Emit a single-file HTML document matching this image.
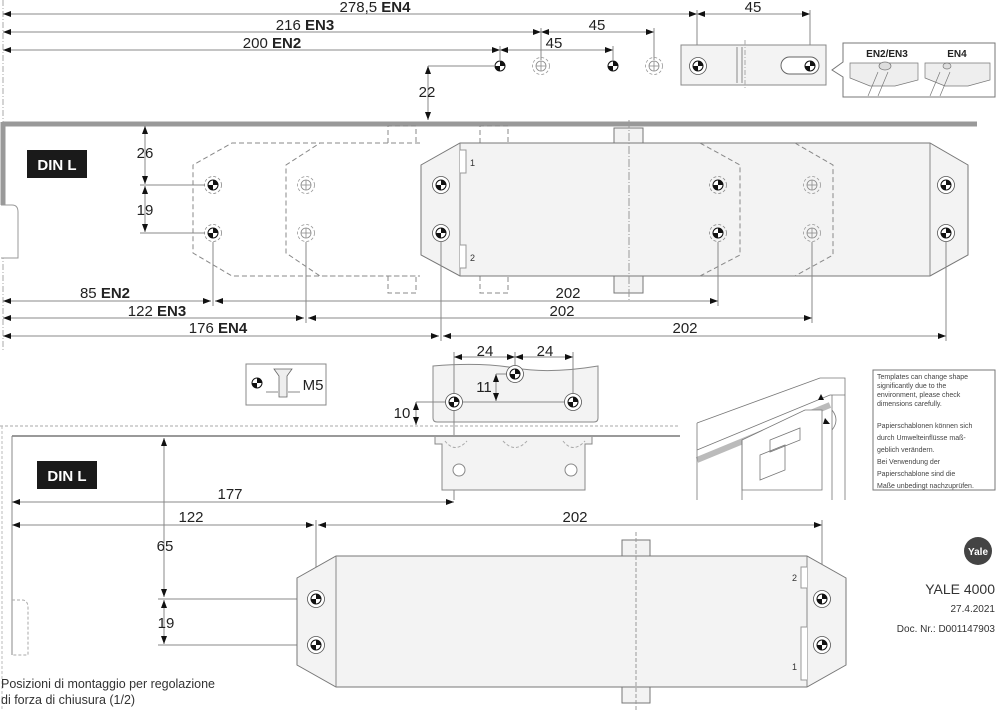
<!DOCTYPE html>
<html><head><meta charset="utf-8"><style>
html,body{margin:0;padding:0;background:#fff;}
svg{display:block;font-family:"Liberation Sans",sans-serif;}
.d{stroke:#888;stroke-width:1;fill:none;}
.t{font-size:15px;fill:#222;text-anchor:middle;}
.b{font-weight:bold;}
.ds{stroke:#888;stroke-width:1;fill:none;stroke-dasharray:5 3;}
.body{fill:#f3f3f3;stroke:#777;stroke-width:1;}
</style></head><body>
<svg width="1000" height="711" viewBox="0 0 1000 711" xmlns="http://www.w3.org/2000/svg">
<defs>
<marker id="a" markerWidth="8" markerHeight="6" refX="8" refY="3" orient="auto-start-reverse" markerUnits="userSpaceOnUse"><path d="M0,0 L8,3 L0,6z" fill="#111"/></marker>
<symbol id="h" viewBox="-9 -9 18 18" overflow="visible">
<circle r="8.5" fill="#fff" stroke="#555" stroke-width="0.8"/>
<circle r="5" fill="#fff" stroke="#111" stroke-width="1"/>
<path d="M0,0 L5,0 A5,5 0 0 0 0,-5z M0,0 L-5,0 A5,5 0 0 0 0,5z" fill="#111"/>
</symbol>
<symbol id="hd" viewBox="-9 -9 18 18" overflow="visible">
<circle r="8.5" fill="none" stroke="#888" stroke-width="0.8" stroke-dasharray="3 2"/>
<circle r="5" fill="#fff" stroke="#111" stroke-width="1"/>
<path d="M0,0 L5,0 A5,5 0 0 0 0,-5z M0,0 L-5,0 A5,5 0 0 0 0,5z" fill="#111"/>
</symbol>
<symbol id="c" viewBox="-9 -9 18 18" overflow="visible">
<circle r="8.5" fill="none" stroke="#999" stroke-width="0.8" stroke-dasharray="3 2"/>
<circle r="5" fill="none" stroke="#888" stroke-width="0.8"/>
<path d="M-5,0H5M0,-5V5" stroke="#888" stroke-width="0.8"/>
</symbol>
<symbol id="hs" viewBox="-6 -6 12 12" overflow="visible">
<circle r="5" fill="#fff" stroke="#111" stroke-width="1"/>
<path d="M0,0 L5,0 A5,5 0 0 0 0,-5z M0,0 L-5,0 A5,5 0 0 0 0,5z" fill="#111"/>
</symbol>
</defs>

<path d="M3,0V350" stroke="#aaa" stroke-dasharray="6 2 1 2" fill="none"/>

<path class="d" d="M3,14H697" marker-start="url(#a)" marker-end="url(#a)"/>
<text class="t" x="375" y="12">278,5 <tspan class="b">EN4</tspan></text>
<path class="d" d="M697,14H810" marker-start="url(#a)" marker-end="url(#a)"/>
<text class="t" x="753" y="12">45</text>
<path class="d" d="M3,32H541" marker-start="url(#a)" marker-end="url(#a)"/>
<text class="t" x="305" y="30">216 <tspan class="b">EN3</tspan></text>
<path class="d" d="M541,32H654" marker-start="url(#a)" marker-end="url(#a)"/>
<text class="t" x="597" y="30">45</text>
<path class="d" d="M3,50H500" marker-start="url(#a)" marker-end="url(#a)"/>
<text class="t" x="272" y="48">200 <tspan class="b">EN2</tspan></text>
<path class="d" d="M500,50H613" marker-start="url(#a)" marker-end="url(#a)"/>
<text class="t" x="554" y="48">45</text>
<path class="d" d="M500,46V60M541,28V60M613,46V60M654,28V60M697,10V60M810,10V60"/>
<use href="#hs" x="494" y="60" width="12" height="12"/>
<use href="#c" x="532" y="57" width="18" height="18" />
<use href="#hs" x="607" y="60" width="12" height="12"/>
<use href="#c" x="645" y="57" width="18" height="18"/>
<path class="d" d="M428,66H494"/>
<path class="d" d="M428,66V120" marker-start="url(#a)" marker-end="url(#a)"/>
<text class="t" x="427" y="97">22</text>

<rect x="681" y="45" width="145" height="40" fill="#f3f3f3" stroke="#888"/>
<path d="M737,47V83M742,47V83" stroke="#888"/>
<path d="M745,40V90" stroke="#aaa" stroke-dasharray="5 2 1 2"/>
<rect x="781" y="57" width="38" height="17" rx="8.5" fill="#fff" stroke="#666"/>
<use href="#h" x="689" y="57" width="18" height="18"/>
<use href="#hs" x="804" y="60" width="12" height="12"/>
<path d="M843,43H995V97H843V77L832,70L843,62Z" fill="#fff" stroke="#777"/>
<text x="887" y="57" font-size="10" font-weight="bold" text-anchor="middle" fill="#222">EN2/EN3</text>
<text x="957" y="57" font-size="10" font-weight="bold" text-anchor="middle" fill="#222">EN4</text>
<g stroke="#777" fill="#eee" stroke-width="0.7">
<path d="M850,63H918V80L895,86H870L850,78Z"/><ellipse cx="885" cy="66" rx="6" ry="4" fill="#ddd"/>
<path d="M878,72L868,96M888,72L878,96" fill="none"/>
<path d="M925,63H990V80L968,86H945L925,78Z"/><ellipse cx="947" cy="66" rx="4" ry="3" fill="#ddd"/>
<path d="M940,72L930,96M950,72L940,96" fill="none"/>
</g>

<path d="M3,124H977" stroke="#999" stroke-width="5"/>
<path d="M3,122V205" stroke="#999" stroke-width="5"/>
<path d="M1,205H12Q18,205 18,212V258H1" fill="#fff" stroke="#999"/>
<rect x="27" y="150" width="60" height="28" fill="#1a1a1a"/>
<text x="57" y="170" font-size="15" font-weight="bold" fill="#fff" text-anchor="middle">DIN L</text>

<path class="d" d="M145,126V184" marker-start="url(#a)" marker-end="url(#a)"/>
<path class="d" d="M145,186V232" marker-start="url(#a)" marker-end="url(#a)"/>
<text class="t" x="145" y="158">26</text>
<text class="t" x="145" y="215">19</text>
<path class="d" d="M140,185H205M140,233H205"/>

<path class="ds" d="M420,143H232L193,165V253L232,276H420"/>
<path class="ds" d="M420,143H320L286,165V253L320,276H420"/>
<path class="ds" d="M388,143V126H416V143M388,276V293H416V276M480,143V126H508V143M480,276V293H508V276"/>
<path class="body" d="M460,143H930L968,165V255L930,276H460L421,255V165Z"/>
<path d="M460,143V276M930,143V276" stroke="#888"/>
<path d="M460,150H466V173H460M460,245H466V268H460" fill="#fff" stroke="#999"/>
<text x="470" y="166" font-size="9" fill="#333">1</text>
<text x="470" y="261" font-size="9" fill="#333">2</text>
<path class="body" d="M614,143V128H643V143Z"/>
<path class="body" d="M614,276V293H643V276Z"/>
<path d="M629,120V300" stroke="#999" stroke-dasharray="8 2 1 2"/>
<path class="ds" d="M700,143L740,165V255L700,276" stroke="#aaa"/>
<path class="ds" d="M795,143L833,165V255L795,276" stroke="#aaa"/>
<use href="#hd" x="204" y="176" width="18" height="18"/>
<use href="#hd" x="204" y="224" width="18" height="18"/>
<use href="#c" x="297" y="176" width="18" height="18"/>
<use href="#c" x="297" y="224" width="18" height="18"/>
<use href="#h" x="432" y="176" width="18" height="18"/>
<use href="#h" x="432" y="224" width="18" height="18"/>
<use href="#hd" x="709" y="176" width="18" height="18"/>
<use href="#hd" x="709" y="224" width="18" height="18"/>
<use href="#c" x="803" y="176" width="18" height="18"/>
<use href="#c" x="803" y="224" width="18" height="18"/>
<use href="#h" x="937" y="176" width="18" height="18"/>
<use href="#h" x="937" y="224" width="18" height="18"/>

<path class="d" d="M213,242V306M306,242V323M441,242V341M718,242V306M812,242V323M946,242V341"/>
<path class="d" d="M3,301H211" marker-start="url(#a)" marker-end="url(#a)"/>
<path class="d" d="M215,301H718" marker-start="url(#a)" marker-end="url(#a)"/>
<text class="t" x="105" y="298">85 <tspan class="b">EN2</tspan></text>
<text class="t" x="568" y="298">202</text>
<path class="d" d="M3,318H304" marker-start="url(#a)" marker-end="url(#a)"/>
<path class="d" d="M308,318H812" marker-start="url(#a)" marker-end="url(#a)"/>
<text class="t" x="157" y="316">122 <tspan class="b">EN3</tspan></text>
<text class="t" x="562" y="316">202</text>
<path class="d" d="M3,336H439" marker-start="url(#a)" marker-end="url(#a)"/>
<path class="d" d="M443,336H946" marker-start="url(#a)" marker-end="url(#a)"/>
<text class="t" x="218" y="333">176 <tspan class="b">EN4</tspan></text>
<text class="t" x="685" y="333">202</text>

<rect x="246" y="364" width="80" height="41" fill="#fff" stroke="#888"/>
<use href="#hs" x="251" y="377" width="12" height="12"/>
<path d="M274,369H292L287,376V397H279V376Z" fill="#eee" stroke="#666" stroke-width="0.8"/>
<path class="d" d="M266,392H278M288,392H300"/>
<text x="313" y="390" font-size="15" fill="#222" text-anchor="middle">M5</text>

<path d="M433,366Q480,362 515,368T598,366V418Q598,422 594,422H437Q433,422 433,418Z" fill="#f3f3f3" stroke="#888"/>
<path class="d" d="M454,352V500M515,352V368M573,352V396"/>
<path class="d" d="M454,357H515" marker-start="url(#a)" marker-end="url(#a)"/>
<path class="d" d="M515,357H573" marker-start="url(#a)" marker-end="url(#a)"/>
<text class="t" x="485" y="356">24</text>
<text class="t" x="545" y="356">24</text>
<path class="d" d="M496,374H508M460,402H567"/>
<path class="d" d="M496,374V401" marker-start="url(#a)" marker-end="url(#a)"/>
<text class="t" x="484" y="392">11</text>
<path class="d" d="M416,402H448"/>
<path class="d" d="M416,402V425" marker-start="url(#a)" marker-end="url(#a)"/>
<text class="t" x="402" y="418">10</text>
<use href="#h" x="445" y="393" width="18" height="18"/>
<use href="#h" x="506" y="365" width="18" height="18"/>
<use href="#h" x="564" y="393" width="18" height="18"/>

<path d="M0,426H680" stroke="#aaa" stroke-dasharray="3 2"/>
<path d="M2,426V711" stroke="#bbb" stroke-dasharray="3 2"/>
<path d="M12,436H680" stroke="#999" stroke-width="2"/>
<path d="M12,436V655" stroke="#888"/>
<path d="M12,600H22Q28,600 28,608V655H12" fill="none" stroke="#aaa" stroke-dasharray="3 2"/>
<path d="M435,437V444H442V490H585V444H592V437" fill="#f3f3f3" stroke="#888"/>
<path d="M445,441Q455,454 467,441M503,441Q515,454 527,441M563,441Q573,454 585,441" fill="none" stroke="#aaa" stroke-dasharray="3 2"/>
<circle cx="459" cy="470" r="6" fill="#fff" stroke="#888"/>
<circle cx="571" cy="470" r="6" fill="#fff" stroke="#888"/>

<rect x="37" y="461" width="60" height="28" fill="#1a1a1a"/>
<text x="67" y="481" font-size="15" font-weight="bold" fill="#fff" text-anchor="middle">DIN L</text>

<path class="d" d="M12,502H454" marker-start="url(#a)" marker-end="url(#a)"/>
<text class="t" x="230" y="499">177</text>
<path class="d" d="M12,525H314" marker-start="url(#a)" marker-end="url(#a)"/>
<path class="d" d="M318,525H822" marker-start="url(#a)" marker-end="url(#a)"/>
<text class="t" x="191" y="522">122</text>
<text class="t" x="575" y="522">202</text>
<path class="d" d="M316,520V590M822,520V590"/>
<path class="d" d="M164,438V597" marker-start="url(#a)" marker-end="url(#a)"/>
<path class="d" d="M164,600V644" marker-start="url(#a)" marker-end="url(#a)"/>
<text class="t" x="165" y="551">65</text>
<text class="t" x="166" y="628">19</text>
<path class="d" d="M158,599H308M158,645H308"/>

<path class="body" d="M336,556H807L846,578V665L807,687H336L297,665V578Z"/>
<path d="M336,556V687M807,556V687" stroke="#888"/>
<path d="M807,567H801V588H807M807,627H801V680H807" fill="#fff" stroke="#999"/>
<text x="792" y="581" font-size="9" fill="#333">2</text>
<text x="792" y="670" font-size="9" fill="#333">1</text>
<path class="body" d="M622,556V540H650V556Z"/>
<path class="body" d="M622,687V703H650V687Z"/>
<path d="M636,532V711" stroke="#999" stroke-dasharray="4 2"/>
<use href="#h" x="307" y="590" width="18" height="18"/>
<use href="#h" x="307" y="636" width="18" height="18"/>
<use href="#h" x="813" y="590" width="18" height="18"/>
<use href="#h" x="813" y="636" width="18" height="18"/>

<g stroke="#777" fill="none" stroke-width="0.8">
<path d="M697,423L820,378H845V500"/>
<path d="M697,450L830,395H845"/>
<path d="M697,460L830,405" stroke="#bbb" stroke-width="6"/>
<path d="M697,500V423"/>
<path d="M742,440L805,410H822V490H742Z" fill="#fff"/>
<path d="M742,440V500M760,455L785,445V470L760,480Z"/>
<path d="M770,440L800,428V440L770,452Z"/>
<path d="M832,395V500M832,410Q840,420 832,430"/>
</g>
<path d="M818,400l3,-6l3,6z" fill="#111"/>
<path d="M825,418l5,6l-7,0z" fill="#111"/>

<rect x="873" y="370" width="122" height="120" fill="#fff" stroke="#777"/>
<g font-size="7" fill="#444">
<text x="877" y="379">Templates can change shape</text>
<text x="877" y="388">significantly due to the</text>
<text x="877" y="397">environment, please check</text>
<text x="877" y="406">dimensions carefully.</text>
<text x="877" y="428">Papierschablonen können sich</text>
<text x="877" y="440">durch Umwelteinflüsse maß-</text>
<text x="877" y="452">geblich verändern.</text>
<text x="877" y="464">Bei Verwendung der</text>
<text x="877" y="476">Papierschablone sind die</text>
<text x="877" y="488">Maße unbedingt nachzuprüfen.</text>
</g>

<circle cx="978" cy="551" r="14" fill="#444"/>
<text x="978" y="555" font-size="10" font-weight="bold" fill="#fff" text-anchor="middle">Yale</text>
<text x="995" y="594" font-size="14" fill="#333" text-anchor="end">YALE 4000</text>
<text x="995" y="612" font-size="10" fill="#333" text-anchor="end">27.4.2021</text>
<text x="995" y="632" font-size="10" fill="#333" text-anchor="end">Doc. Nr.: D001147903</text>

<text x="1" y="688" font-size="12.5" fill="#333" textLength="214">Posizioni di montaggio per regolazione</text>
<text x="1" y="704" font-size="12.5" fill="#333">di forza di chiusura (1/2)</text>
</svg>
</body></html>
